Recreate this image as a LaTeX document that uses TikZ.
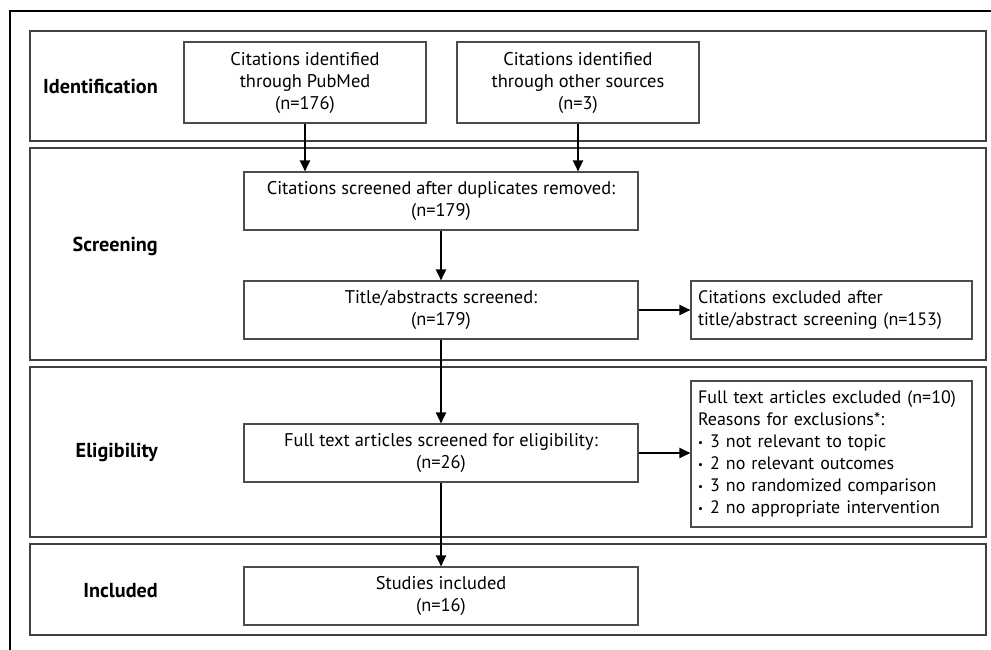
\documentclass[tikz,border=0pt]{standalone}
\usepackage{fontspec}
\setmainfont{PT Sans}
\usepackage{graphicx}
\usetikzlibrary{arrows.meta}
\newcommand\bulitem{\raisebox{1.4pt}{\fontsize{11}{11}\selectfont •}\hspace{0.4em}}
\tikzset{
  sect/.style={draw=black!75, line width=1.3pt, rectangle, inner sep=0pt, minimum width=956pt},
  box/.style={draw=black!70, line width=1.1pt, rectangle, inner sep=0pt, align=center,
    font=\fontsize{18.4}{22}\selectfont},
  sidebox/.style={draw=black!70, line width=1.1pt, rectangle, inner xsep=7pt, inner ysep=0pt,
    text width=267pt, align=left, font=\fontsize{18}{22}\selectfont},
  stagelbl/.style={anchor=east, inner sep=0pt, font=\bfseries\fontsize{20.2}{22}\selectfont},
  arr/.style={draw=black, line width=2pt, -{Triangle[length=11pt,width=10pt]}},
}
\begin{document}
\begin{tikzpicture}[x=1pt,y=-1pt]
\useasboundingbox (0,0) rectangle (991,650);
% outer frame
\draw[line width=2.6pt, line cap=rect] (10,650) -- (10,11) -- (991,11);
% sections
\node[sect, minimum height=110pt] (sId)  at (508,86) {};
\node[sect, minimum height=212pt] (sScr) at (508,254) {};
\node[sect, minimum height=170pt] (sEl)  at (508,452) {};
\node[sect, minimum height=91pt]  (sIn)  at (508,589.5) {};
% stage labels
\node[stagelbl] (lId)  at (158,86)  {Identification};
\node[stagelbl] (lScr) at (158,246) {Screening};
\node[stagelbl] (lEl)  at (158,452) {Eligibility};
\node[stagelbl] (lIn)  at (158,591) {Included};
% boxes
\node[box, minimum width=242pt, minimum height=81pt] (pub) at (305,82.5)
  {Citations identified\\through PubMed\\(n=176)};
\node[box, minimum width=242pt, minimum height=81pt] (oth) at (578,82.5)
  {Citations identified\\through other sources\\(n=3)};
\node[box, minimum width=394pt, minimum height=58pt] (dup) at (441,201)
  {Citations screened after duplicates removed:\\(n=179)};
\node[box, minimum width=394pt, minimum height=58pt] (tit) at (441,310)
  {Title/abstracts screened:\\(n=179)};
\node[sidebox, minimum height=58pt] (ex1) at (831.5,310)
  {Citations excluded after\\title/abstract screening (n=153)};
\node[box, minimum width=394pt, minimum height=58pt] (full) at (441,453)
  {Full text articles screened for eligibility:\\(n=26)};
\node[sidebox, minimum height=146pt] (ex2) at (831.5,454)
  {Full text articles excluded (n=10)\\Reasons for exclusions*:\\
   \bulitem 3 not relevant to topic\\
   \bulitem 2 no relevant outcomes\\
   \bulitem 3 no randomized comparison\\
   \bulitem 2 no appropriate intervention};
\node[box, minimum width=394pt, minimum height=58pt] (stu) at (441,596)
  {Studies included\\(n=16)};
% connectors
\draw[arr] (pub.south) -- (pub.south |- dup.north);
\draw[arr] (oth.south) -- (oth.south |- dup.north);
\draw[arr] (dup) -- (tit);
\draw[arr] (tit) -- (ex1);
\draw[arr] (tit) -- (full);
\draw[arr] (full.east) -- (full.east -| ex2.west);
\draw[arr] (full) -- (stu);
\end{tikzpicture}
\end{document}
